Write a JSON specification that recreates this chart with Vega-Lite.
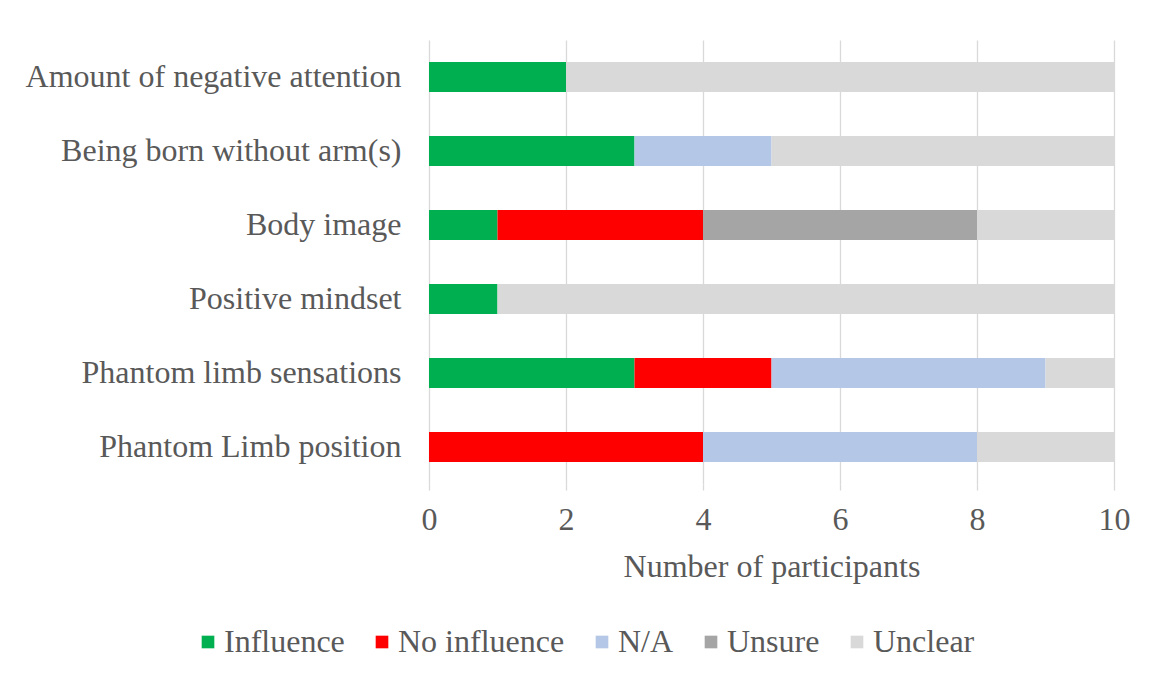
{
  "$schema": "https://vega.github.io/schema/vega-lite/v6.json",
  "width": 685,
  "height": 444,
  "autosize": "none",
  "padding": {"left": 429, "top": 40, "right": 40, "bottom": 191},
  "background": "white",
  "config": {
    "view": {"stroke": null},
    "font": "Liberation Serif"
  },
  "data": {
    "values": [
      {"factor": "Amount of negative attention", "response": "Influence", "order": 1, "count": 2},
      {"factor": "Amount of negative attention", "response": "Unclear", "order": 5, "count": 8},
      {"factor": "Being born without arm(s)", "response": "Influence", "order": 1, "count": 3},
      {"factor": "Being born without arm(s)", "response": "N/A", "order": 3, "count": 2},
      {"factor": "Being born without arm(s)", "response": "Unclear", "order": 5, "count": 5},
      {"factor": "Body image", "response": "Influence", "order": 1, "count": 1},
      {"factor": "Body image", "response": "No influence", "order": 2, "count": 3},
      {"factor": "Body image", "response": "Unsure", "order": 4, "count": 4},
      {"factor": "Body image", "response": "Unclear", "order": 5, "count": 2},
      {"factor": "Positive mindset", "response": "Influence", "order": 1, "count": 1},
      {"factor": "Positive mindset", "response": "Unclear", "order": 5, "count": 9},
      {"factor": "Phantom limb sensations ", "response": "Influence", "order": 1, "count": 3},
      {"factor": "Phantom limb sensations ", "response": "No influence", "order": 2, "count": 2},
      {"factor": "Phantom limb sensations ", "response": "N/A", "order": 3, "count": 4},
      {"factor": "Phantom limb sensations ", "response": "Unclear", "order": 5, "count": 1},
      {"factor": "Phantom Limb position", "response": "No influence", "order": 2, "count": 4},
      {"factor": "Phantom Limb position", "response": "N/A", "order": 3, "count": 4},
      {"factor": "Phantom Limb position", "response": "Unclear", "order": 5, "count": 2}
    ]
  },
  "mark": {"type": "bar"},
  "encoding": {
    "y": {
      "field": "factor",
      "type": "nominal",
      "sort": ["Amount of negative attention", "Being born without arm(s)", "Body image", "Positive mindset", "Phantom limb sensations ", "Phantom Limb position"],
      "scale": {"paddingInner": 0.595, "paddingOuter": 0.2975},
      "axis": {
        "title": null,
        "ticks": false,
        "domain": false,
        "labelFontSize": 32,
        "labelColor": "#595959",
        "labelPadding": 28,
        "labelLimit": 500
      }
    },
    "x": {
      "field": "count",
      "type": "quantitative",
      "stack": "zero",
      "scale": {"domain": [0, 10], "nice": false},
      "axis": {
        "title": "Number of participants",
        "titleFontSize": 32,
        "titleFontWeight": "normal",
        "titleColor": "#595959",
        "titlePadding": 16,
        "values": [0, 2, 4, 6, 8, 10],
        "domain": false,
        "grid": true,
        "gridColor": "#D9D9D9",
        "gridWidth": 1.3,
        "tickColor": "#D9D9D9",
        "tickWidth": 1.3,
        "tickSize": 6,
        "labelFontSize": 32,
        "labelColor": "#595959",
        "labelPadding": 14,
        "labelFlush": false
      }
    },
    "color": {
      "field": "response",
      "type": "nominal",
      "scale": {
        "domain": ["Influence", "No influence", "N/A", "Unsure", "Unclear"],
        "range": ["#00B050", "#FF0000", "#B4C7E7", "#A5A5A5", "#D9D9D9"]
      },
      "legend": {
        "title": null,
        "orient": "none",
        "direction": "horizontal",
        "legendX": -237,
        "legendY": 586,
        "symbolType": "square",
        "symbolSize": 160,
        "symbolStrokeWidth": 0,
        "symbolOpacity": 1,
        "labelFontSize": 32,
        "labelColor": "#595959",
        "labelLimit": 400,
        "labelOffset": 0,
        "columnPadding": 21
      }
    },
    "order": {"field": "order", "type": "quantitative"}
  }
}
